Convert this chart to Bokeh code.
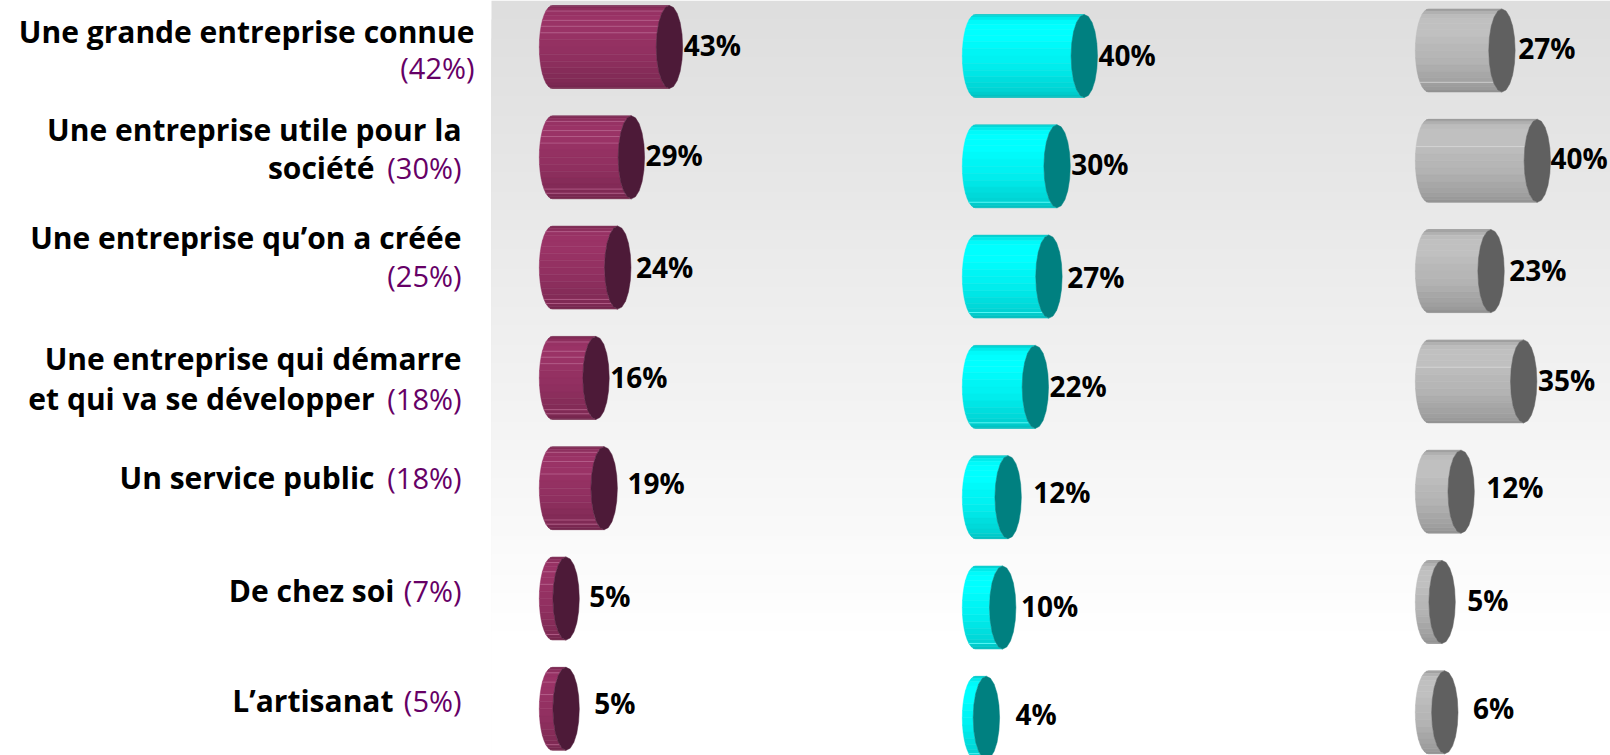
from bokeh.plotting import figure
from bokeh.models import Range1d, ColumnDataSource
from bokeh.core.properties import value
from bokeh.embed import file_html
from bokeh.resources import INLINE
import math

# ---------- data ----------
labels_black = [["Une grande entreprise connue"], ["Une entreprise utile pour la", "société"],
                ["Une entreprise qu’on a créée"], ["Une entreprise qui démarre", "et qui va se développer"],
                ["Un service public"], ["De chez soi"], ["L’artisanat"]]
labels_prev = ["(42%)", "(30%)", "(25%)", "(18%)", "(18%)", "(7%)", "(5%)"]
series_a = [43, 29, 24, 16, 19, 5, 5]
series_b = [40, 30, 27, 22, 12, 10, 4]
series_c = [27, 40, 23, 35, 12, 5, 6]

# ---------- layout / style ----------
W, H = 1610, 755
PX_PER_PCT = 2.72
ROW_STEP = 110.3
CAP_A, CAP_H = 13.2, 41.5
NF = 18
CAP_VERTICES = 20
SHADES = [.76, .84, .92, .98, 1, 1, 1, .98, .96, .95, .93, .9, .87, .85, .83, .8, .77, .74]
columns = [
    dict(vals=series_a, x0=552, yc=46.5, base=(154, 51, 102), cap="#4d1a38", line="#b8648f",
         gaps=[1, 1, 5, 1, 10, 10, 15], text_y=[44, 154, 266, 376, 482, 595, 702],
         edges=[[3, 5, 6, 7], [3, 5, 6, 7, 14, 15], [3, 14, 15], [3, 5, 6, 7, 14, 15], [3, 5, 7, 14, 15], [3, 5, 7, 15], [3, 5, 7, 15]]),
    dict(vals=series_b, x0=975, yc=55.5, base=(0, 255, 255), cap="#008080", line="#66ffff",
         gaps=[1, 1, 5, 1, 12, 5, 16], text_y=[54, 163, 276, 385, 491, 605, 713],
         edges=[[], [15], [15], [15], [], [15], [15]]),
    dict(vals=series_c, x0=1428, yc=50, base=(192, 192, 192), cap="#606060", line="#d8d8d8",
         gaps=[3, 0, 5, 1, 12, 12, 15], text_y=[47, 157, 269, 379, 486, 599, 707],
         edges=[[14], [7], [], [7], [], [], []]),
]
FONT = "Open Sans"
LABEL_SIZE, PREV_SIZE, VALUE_SIZE = "30px", "29px", "28px"

p = figure(width=W, height=H, x_range=Range1d(0, W), y_range=Range1d(H, 0),
           output_backend="svg", toolbar_location=None, min_border=0,
           x_axis_location=None, y_axis_location=None, outline_line_color=None,
           background_fill_color="white", border_fill_color="white")
p.grid.visible = False
p.margin = (0, 0, 0, 0)

# background gradient: every step paints down to the bottom, so no seams
STEPS = 34
GRAD_END = 650
for i in range(STEPS):
    t = i / (STEPS - 1)
    g = round(222 + (255 - 222) * t)
    y0 = round(i * GRAD_END / STEPS)
    p.quad(left=491, right=W, top=y0, bottom=H, fill_color=(g, g, g), line_color=None)

for n, c in enumerate(columns):
    xn, yn = f"x{n}", f"y{n}"
    p.extra_x_ranges[xn] = Range1d(-c["x0"] / PX_PER_PCT, (W - c["x0"]) / PX_PER_PCT)
    p.extra_y_ranges[yn] = Range1d((H - c["yc"]) / ROW_STEP, -c["yc"] / ROW_STEP)
    a = CAP_A / PX_PER_PCT
    h = CAP_H / ROW_STEP
    for row, v in enumerate(c["vals"]):
        xs, ys, cols = [], [], []
        for k in range(NF):
            th0 = -math.pi / 2 + math.pi * k / NF
            th1 = -math.pi / 2 + math.pi * (k + 1) / NF
            xs.append([-a * math.cos(th0), v - a * math.cos(th0), v - a * math.cos(th1), -a * math.cos(th1)])
            ys.append([row + h * math.sin(th0), row + h * math.sin(th0), row + h * math.sin(th1), row + h * math.sin(th1)])
            s = SHADES[k]
            cols.append("#%02x%02x%02x" % tuple(round(b * s) for b in c["base"]))
        p.patches(xs, ys, fill_color=cols, line_color=cols, line_width=0.5, x_range_name=xn, y_range_name=yn)
        lx, ly = [], []
        for k in c["edges"][row]:
            th = -math.pi / 2 + math.pi * k / NF
            lx.append([-a * math.cos(th), v - a * math.cos(th)])
            ly.append([row + h * math.sin(th)] * 2)
        if lx:
            p.multi_line(lx, ly, line_color=c["line"], line_width=1, line_alpha=0.8, x_range_name=xn, y_range_name=yn)
        capx, capy = [], []
        for k in range(CAP_VERTICES):
            th = 2 * math.pi * k / CAP_VERTICES + math.pi / 2
            capx.append(v + a * math.cos(th))
            capy.append(row + h * math.sin(th))
        p.patch(capx, capy, fill_color=c["cap"], line_color=c["cap"], line_width=0.5, x_range_name=xn, y_range_name=yn)
    src = ColumnDataSource(dict(
        x=c["vals"], y=c["text_y"], t=[f"{v}%" for v in c["vals"]],
        dx=[g + CAP_A for g in c["gaps"]]))
    # x uses the column's scale, y stays in the page range
    p.text(x="x", y="y", text="t", x_offset="dx", source=src, x_range_name=xn,
           text_font=value(FONT), text_font_size=VALUE_SIZE, text_font_style="bold",
           text_color="black", text_align="left", text_baseline="alphabetic")

# left-hand labels: baselines, right edge, right end of black text on each line, purple baseline
label_lines = [
    ([31], 474, [None], 67),
    ([129, 167], 461, [None, 374], 167),
    ([237], 461, [None], 275),
    ([358, 398], 461, [None, 374], 398),
    ([477], 461, [374], 477),
    ([590], 461, [394], 590),
    ([700], 461, [393], 700),
]
for (lines, prev, (bases, right, ends, pbase)) in zip(labels_black, labels_prev, label_lines):
    for line, b, e in zip(lines, bases, ends):
        p.text(x=[e if e else right], y=[b], text=[line], text_font=value(FONT), text_font_size=LABEL_SIZE,
               text_font_style="bold", text_color="black", text_align="right", text_baseline="alphabetic")
    p.text(x=[right], y=[pbase], text=[prev], text_font=value(FONT), text_font_size=PREV_SIZE,
           text_color="#660066", text_align="right", text_baseline="alphabetic")

open("out.html", "w").write(file_html(p, INLINE))
